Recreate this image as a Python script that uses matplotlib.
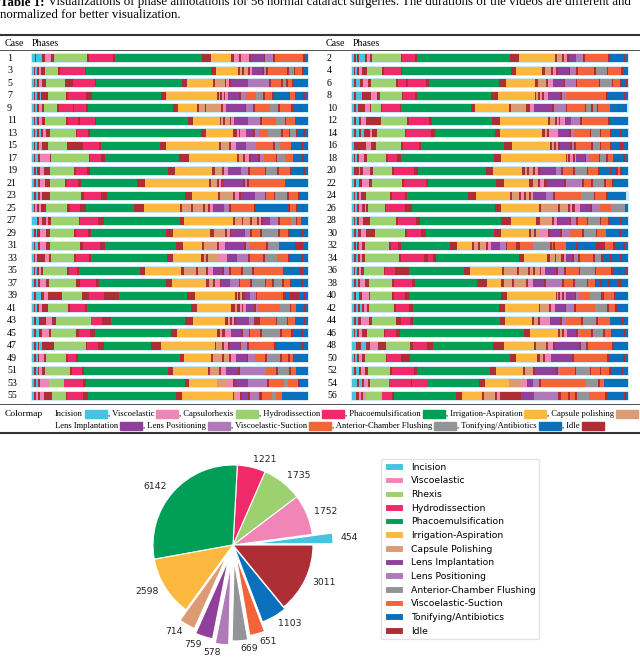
import numpy as np
import matplotlib.pyplot as plt
from matplotlib.patches import Rectangle
from matplotlib.transforms import blended_transform_factory

# phase codes used in the case strings below
phase_codes = ['I', 'V', 'C', 'H', 'P', 'A', 'O', 'L', 'S', 'U', 'F', 'T', 'D']
phase_names = ['Incision', 'Viscoelastic', 'Capsulorhexis', 'Hydrodissection',
               'Phacoemulsification', 'Irrigation-Aspiration', 'Capsule polishing',
               'Lens Implantation', 'Lens Positioning', 'Viscoelastic-Suction',
               'Anterior-Chamber Flushing', 'Tonifying/Antibiotics', 'Idle']
phase_colors = {'I': '#44c4e0', 'V': '#f285b7', 'C': '#9dd06f', 'H': '#ef2a6a',
                'P': '#009e56', 'A': '#fdb840', 'O': '#dd9b74', 'L': '#903f9a',
                'S': '#b07ab9', 'U': '#f3643a', 'F': '#939497', 'T': '#0a70bc',
                'D': '#ae2e36'}

# each token: phase code + right boundary of the segment (timeline runs 97..925)
timeline_start = 97
timeline_end = 925

cases_left = list(range(1, 56, 2))
cases_right = list(range(2, 57, 2))

phases_left = [
    "I105 D110 I128 D135 V155 D162 C262 D267 H340 D345 P608 D635 A695 D702 V718 D725 V748 D754 L792 D797 S820 D826 U910 D916 T925",
    "I102 D106 I112 D118 V125 D135 C175 D180 H255 D260 P635 D648 A715 D720 O728 D732 O745 D750 V757 L788 D792 S800 D806 U862 D867 F882 D887 U908 D912 T925",
    "I102 D106 I112 D118 V128 D138 C195 D220 H285 D290 P548 D562 A640 D646 O675 D680 V688 D693 L745 S808 D815 U845 D850 F858 D865 U878 D882 T905 D908 T925",
    "I102 D106 I112 D120 I124 D144 C198 D204 H258 D278 P485 D500 A652 D657 O661 D666 V672 D676 V685 L718 D723 S738 U770 F790 D795 U818 D822 T868 D872 U886 D890 T910 D915 T925",
    "I102 D106 I112 D118 V128 D134 C172 D178 H220 D224 H260 D265 P520 D535 A592 D597 O615 D620 O665 D670 V680 L735 D740 S760 D765 U810 F836 D840 U875 D880 T905 D908 T925",
    "I102 D106 I112 D118 V128 D136 C200 D205 H235 D240 H285 D290 P565 D580 A660 D665 O670 D675 O690 D695 V702 L745 S782 D788 U830 F855 D860 U885 T905 D908 T925",
    "I102 D106 I112 D118 I124 D130 V140 D152 C228 D233 H265 D272 P605 D620 A700 D712 V718 D722 V738 L760 D766 S778 U805 F845 D850 U868 D872 F888 D892 T910 D915 T925",
    "I102 D106 I112 D118 V128 D145 C203 D250 H298 D303 P482 D498 A658 D665 O688 D695 V710 L738 S768 U820 D825 F840 U875 T905 D910 T925",
    "I102 D106 I114 D120 V150 D155 C268 D272 H305 D315 P538 D568 A712 D718 O730 D735 V748 D755 L775 D780 S792 U828 D833 F855 U880 T908 D912 T925",
    "I102 D108 I112 D120 V132 D152 C222 D228 H262 D272 P505 D525 A638 D645 O668 D672 V685 L725 S745 D750 U795 D800 F833 D837 U870 D875 T910 D915 T925",
    "I102 D108 I114 D120 V135 D152 C195 D202 H235 D245 P412 D437 A628 D635 O652 D657 V665 D670 L730 D735 S742 D748 U855 T915 D920 T925",
    "I102 D108 I114 D120 V128 D150 C245 D252 H305 D322 P557 D577 A655 D662 O700 D705 V718 D723 L765 S795 D800 U822 D827 F862 D867 U895 D900 T925",
    "I102 D106 V112 D118 V125 D140 C203 D210 H240 D258 P402 D432 A540 D546 O575 D580 O610 D615 O625 D630 V640 L672 S688 D694 U762 D768 T865 D870 U888 D893 T910 D913 T925",
    "I112 D118 V126 D140 V145 D155 C237 D242 H295 D312 P540 D552 A700 D706 O726 D731 O752 D757 O772 D778 V785 D790 L810 S835 D840 U875 F888 D892 U905 T925",
    "I102 D108 I112 D120 V138 D150 C222 D228 H265 D275 P498 D520 A632 D642 O675 D682 V690 D695 L735 S752 D756 U782 D786 F835 D840 U865 D870 T905 D910 T925",
    "I102 D106 I114 D120 V138 D152 C240 D250 H302 D316 P528 D550 A607 D613 O652 D657 V676 L733 D739 S750 U800 D805 F838 T885 D910 T925",
    "I102 D106 V112 D135 V148 D155 C222 D228 H268 D275 P502 D520 A605 D612 O620 D625 O655 V682 L712 S745 D750 U790 D795 F832 U865 D870 T905 D910 T925",
    "I102 D106 I112 D118 V124 D130 C203 D208 H232 D238 P420 D437 A545 D552 O590 D596 O620 D626 V640 L667 D672 S688 D693 U725 D730 F757 D763 U850 T902 D910 T925",
    "I102 D108 I114 D120 V138 D148 C228 D242 H290 D297 P498 D516 A620 D628 O640 D645 V660 D664 L690 S718 D722 U752 D756 F795 D800 U818 D822 F848 D852 U870 D875 T905 D910 T925",
    "I102 D108 I124 D134 V145 D187 C248 D268 H312 D358 P562 D585 A705 D712 V716 D722 O728 D735 L752 S768 D772 U850 D855 T872 D897 T910 D915 T925",
    "I102 D106 I112 D118 V128 D145 C205 D210 H255 D262 P573 D592 A693 D705 O713 D720 V726 D730 V738 L762 D768 S775 U840 F870 D874 U890 T912 D916 T925",
    "I102 D108 I118 D138 V156 D168 C275 H308 D335 P557 D580 A677 D685 O690 D697 V703 D708 L747 S762 D780 U828 D833 F862 D866 U885 T912 D916 T925",
    "I102 D108 I118 D126 V148 D154 C230 D237 H270 D285 P515 D533 A653 D662 O668 D676 V695 L725 D730 S748 D752 U782 D788 F842 D846 U875 D880 T905 D910 T925",
    "I102 D108 I114 D118 I128 D163 C258 D262 H295 D312 P455 D485 A645 D650 O668 D673 V685 D690 L720 D725 S742 D748 U822 D828 T908 D912 T925",
    "I102 D108 I114 D118 V132 D138 C198 D205 H230 D234 P540 D552 A635 D640 O668 D674 O688 D694 V710 L742 D746 S765 U797 D802 F842 D846 U865 D870 U880 D884 T925",
    "I102 D108 I114 D118 V128 D136 C210 D216 H246 D252 P506 D520 A625 D632 O658 D664 V680 L716 D722 S798 U828 D834 F868 D873 U890 T925",
    "I103 D109 I115 D121 V147 C194 H249 D258 P555 D567 A653 O681 V700 D705 L744 S803 D809 U852 F866 U894 D900 T925",
    "I103 D109 V115 D121 V134 D156 C199 D202 H250 D266 P530 D547 A700 D704 O710 V722 D728 L745 D750 S779 D786 U818 F830 U848 T925",
]

phases_right = [
    "I102 D108 I112 D118 I135 D142 V150 D158 C243 D248 H285 D292 P572 D598 A705 D712 O728 D732 V742 D748 L770 S790 D795 U865 D870 T912 D916 T925",
    "I102 D106 I112 D118 V128 D142 C187 D192 H245 D248 P575 D588 A668 D675 O695 D700 V710 D716 L748 D752 S770 D776 U822 D828 F862 D866 U905 D910 T925",
    "I102 D108 I122 D130 V145 D155 C228 D236 H260 D264 H318 D328 P538 D560 A645 D655 O680 D686 V700 L732 D736 S768 D772 U838 D842 F876 D880 U902 D908 T918 D921 T925",
    "I102 D110 I128 D155 V172 D180 C246 D250 H285 D292 P515 D535 A645 D650 O655 D660 V668 D672 V685 L720 D726 S740 U860 D866 T892 D896 T912 D916 T925",
    "I102 D108 I114 D135 V150 D155 C184 D188 H240 D245 P455 D465 A568 D575 O620 D632 V642 L698 D702 S738 D742 U795 D800 F815 D820 F832 D836 U870 T898 D902 T922",
    "I102 D108 I118 D125 V138 D185 C262 D268 H328 D336 P518 D542 A685 D690 O705 D712 V718 D722 V735 L755 S782 D788 U865 D870 T925",
    "I102 D108 I118 D125 I132 D152 V158 D172 C255 D260 H335 D345 P525 D540 A668 D675 O682 D688 V715 L748 D753 S762 U810 D815 F840 D845 U870 D875 T902 D908 T916 D920 T925",
    "I102 D140 V155 D170 C245 D250 H298 D305 P552 D578 A690 D697 O702 D708 V715 D722 L750 D756 S762 D768 U815 D820 F840 D845 U870 D875 T902 D910 T922 D925",
    "I102 D106 I112 D118 V132 D142 C200 D205 H232 D244 P522 D545 A738 D742 O746 D750 V760 D765 V770 L795 D800 S808 U838 D842 F860 D865 U880 T910 D915 T925",
    "I102 D118 I122 D130 V152 D160 C218 D222 H282 D296 P500 D520 A608 D616 O622 D628 O640 D646 V655 D660 L708 S725 D730 U760 D765 F802 D806 U835 D840 T870 D874 T890 D895 U902 D906 T925",
    "I102 D108 I118 D128 V148 D158 C246 D252 H318 D325 P528 D552 A628 D640 O655 D662 V672 D682 L732 D738 S788 D794 U815 D820 F852 D858 U878 D882 T925",
    "I102 D106 I112 D118 V124 D140 C212 D216 H255 D262 P445 D468 A570 D578 O598 D604 V612 D620 O628 D634 V640 L678 S700 D705 U785 F822 D826 U858 D864 T920",
    "I102 D106 I112 D118 V128 D136 V140 D145 C195 D198 H255 D278 P525 D545 A658 D665 O715 D720 O745 D750 V757 D765 V780 L812 D818 S842 U875 F915 D918 T925",
    "I102 D106 I112 D118 V130 D150 C228 D236 H290 D302 P545 D575 A650 D660 O698 D704 V712 D716 L750 D754 S770 D774 U802 D806 F840 D845 U865 D870 T902 D906 T925",
    "I102 D108 I116 D124 V140 D165 C255 D262 H305 D318 P522 D545 A628 D635 O642 D648 O660 V685 D690 L722 D726 S752 U788 D792 F828 D832 U860 T898 D904 T925",
    "I102 D108 I112 D118 V126 D136 C208 D214 H236 D244 P392 D412 A458 D464 O475 D480 O498 D505 V515 L540 S558 D562 U590 D600 U640 F692 D696 U700 D706 U740 T768 D775 T795 D800 T828 D855 U880 D886 T910 D915 T925",
    "I102 D108 I114 D120 V128 D136 C238 D244 H312 D325 H340 D350 P598 D612 A683 D690 O705 D710 O725 D732 V740 L758 D762 S775 D782 U820 D825 F845 D850 T870 D876 T900 D906 T925",
    "I102 D106 I112 D118 V124 D132 C192 D196 H225 D268 P432 D452 A548 D554 O592 D598 O625 D630 O640 D645 O660 D665 V675 L710 D714 S732 D738 U778 D782 F825 D830 U875 D880 T898 D902 T918 D922 T925",
    "I102 D108 I114 D120 V135 D148 C218 D224 H278 D285 P472 D502 A545 D552 O578 D584 O618 D624 V640 L674 D680 S728 D734 U760 D765 F802 D806 U825 D830 T842 D848 T866 D870 T895 D908 T925",
    "I102 D108 I118 D126 V148 D152 C218 D222 H256 D268 P543 D562 A708 D712 O716 D720 V728 D732 V738 L765 D770 S778 U810 F845 D852 U882 D886 T915 D920 T925",
    "I102 D108 I114 D120 I126 D134 V142 D148 C222 D228 H268 D280 P537 D556 A657 D662 O688 D694 V706 L736 D740 S762 D768 U825 F862 D868 U887 D892 T925",
    "I102 D108 I115 D124 V148 D158 C228 D244 H272 D280 P540 D556 A637 D642 O655 D660 V690 L722 D728 S738 U785 D790 F830 D835 U870 T905 D910 T925",
    "I102 D106 I112 D118 V128 D142 C192 D196 H228 D242 P612 D630 A715 D722 O726 D732 V742 L770 D775 S782 U815 D820 F850 D855 U873 T912 D916 T925",
    "I110 D124 I138 D150 V176 D198 C272 D280 H322 D340 P520 D552 A642 D648 O680 D686 V700 D706 L778 D784 S798 D805 U878 D884 T925",
    "I102 D106 I112 D118 V128 D135 C198 D202 H245 D270 P570 D590 A652 D660 O670 D676 V694 L758 D762 U862 D868 T910 D915 T925",
    "I102 D108 I118 D124 V136 D146 C210 D218 H282 D292 P512 D528 A610 D615 O640 D646 L708 D714 S722 U765 D770 F810 D815 U840 D845 U868 D874 T905 D910 T925",
    "I113 D117 I126 D132 V144 D151 C209 H274 D278 H323 P479 D495 A569 O606 V622 L639 S657 D663 U799 F836 D842 U854 T915 D918 T925",
    "I109 D117 V125 D131 V138 C187 H218 D224 P408 D427 A488 D494 O525 D531 V540 D605 L642 S716 D724 U745 D752 U766 D771 F808 U857 D863 T912 D919 T925",
]

# pie chart (frame counts per phase)
pie_labels = ['Incision', 'Viscoelastic', 'Rhexis', 'Hydrodissection', 'Phacoemulsification',
              'Irrigation-Aspiration', 'Capsule Polishing', 'Lens Implantation',
              'Lens Positioning', 'Anterior-Chamber Flushing', 'Viscoelastic-Suction',
              'Tonifying/Antibiotics', 'Idle']
pie_counts = [454, 1752, 1735, 1221, 6142, 2598, 714, 759, 578, 669, 651, 1103, 3011]
pie_codes = ['I', 'V', 'C', 'H', 'P', 'A', 'O', 'L', 'S', 'F', 'U', 'T', 'D']


def parse_case(s):
    codes, lefts, widths = [], [], []
    prev = timeline_start
    for tok in s.split():
        end = float(tok[1:])
        codes.append(tok[0])
        lefts.append(prev)
        widths.append(end - prev)
        prev = end
    return codes, lefts, widths


serif = ['Liberation Serif', 'DejaVu Serif']
W, H = 640, 657

fig = plt.figure(figsize=(6.4, 6.57), dpi=100)
bg = fig.add_axes([0, 0, 1, 1])
bg.set_xlim(0, W)
bg.set_ylim(H, 0)
bg.axis('off')
renderer = fig.canvas.get_renderer()


def text_w(t):
    return t.get_window_extent(renderer=renderer).width


# caption (first line is cut at the top edge, as in the source)
t = bg.text(0, 2.5, 'Table 1:', fontsize=9.3, fontweight='bold', family=serif, va='center')
bg.text(text_w(t) + 3, 2.5, 'Visualizations of phase annotations for 56 normal cataract surgeries. '
        'The durations of the videos are different and', fontsize=9.3, family=serif, va='center')
bg.text(0, 14.5, 'normalized for better visualization.', fontsize=9.3, family=serif, va='center')

# table rules and header
bg.plot([0, W], [35, 35], color='#333333', lw=1.5)
bg.plot([0, W], [50, 50], color='#333333', lw=0.6)
bg.plot([0, W], [404, 404], color='#333333', lw=0.6)
bg.plot([0, W], [433, 433], color='#333333', lw=1.5)
for x0 in (5, 326):
    bg.text(x0, 43, 'Case', fontsize=7.2, family=serif, va='center')
    bg.text(x0 + 27, 43, 'Phases', fontsize=7.2, family=serif, va='center')

row_h = 12.5
rows_top = 52.0
n_rows = len(cases_left)


def draw_column(x0, cases, phases):
    ax = fig.add_axes([x0 / W, 1 - (rows_top + n_rows * row_h) / H, 276 / W, n_rows * row_h / H])
    ax.set_xlim(timeline_start, timeline_end)
    ax.set_ylim(n_rows - 0.5, -0.5)
    ax.axis('off')
    tr = blended_transform_factory(fig.transFigure, ax.transData)
    for i, (case, s) in enumerate(zip(cases, phases)):
        codes, lefts, widths = parse_case(s)
        ax.barh(i, timeline_end - timeline_start + 4, left=timeline_start - 2, height=0.8,
                color='#cde9f3', clip_on=False)
        ax.barh(i, widths, left=lefts, height=0.64, color=[phase_colors[c] for c in codes],
                linewidth=0)
        ax.text((x0 - 25) / W, i, str(case), transform=tr, fontsize=7.2, family=serif,
                va='center', ha='left')
    return ax


draw_column(32, cases_left, phases_left)
draw_column(352, cases_right, phases_right)

# colormap line
bg.text(5, 414, 'Colormap', fontsize=6.8, family=serif, va='center')
lines = [phase_names[:7], phase_names[7:]]
for li, names in enumerate(lines):
    y = 414 + li * 11.5
    x = 55
    for j, name in enumerate(names):
        label = name if (j == 0) else ', ' + name
        tt = bg.text(x, y, label, fontsize=6.2, family=serif, va='center')
        x += text_w(tt) + 2
        code = phase_codes[phase_names.index(name)]
        bg.add_patch(Rectangle((x, y - 4), 22, 8, color=phase_colors[code]))
        x += 23

# pie chart
pie_ax = fig.add_axes([113 / W, 0, 240 / W, 217 / H])
explode = [0.25, 0, 0, 0, 0, 0, 0.15, 0.2, 0.25, 0.2, 0.15, 0.03, 0]
wedges, texts = pie_ax.pie(pie_counts, labels=[str(c) for c in pie_counts],
                           colors=[phase_colors[c] for c in pie_codes], explode=explode,
                           startangle=0, labeldistance=1.1,
                           textprops={'fontsize': 6.7, 'color': '#222222'},
                           wedgeprops={'edgecolor': 'white', 'linewidth': 0.8})
pie_ax.set_xlim(-1.5, 1.5)
pie_ax.set_ylim(-1.4, 1.3125)

fig.legend(wedges, pie_labels, loc='upper left', bbox_to_anchor=(381 / W, 1 - 459 / H),
           borderaxespad=0, fontsize=6.7, frameon=True, edgecolor='#dddddd')

fig.savefig('out.png', dpi=100)
